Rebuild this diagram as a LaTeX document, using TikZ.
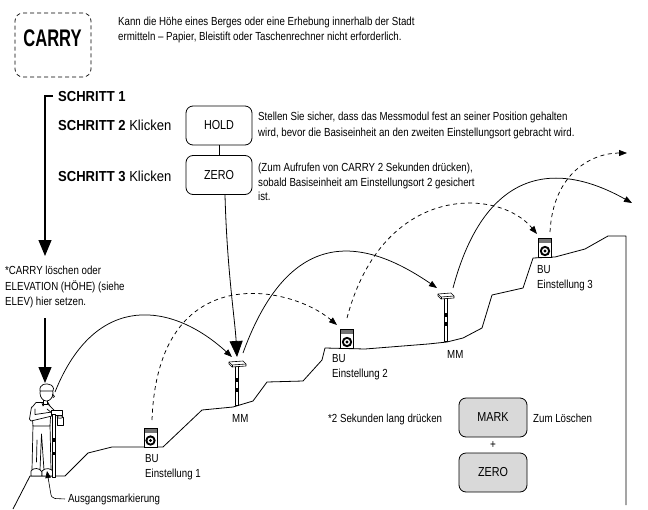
\documentclass[tikz,border=0pt]{standalone}
\usepackage{fontspec}
\setmainfont{Liberation Sans}[FakeStretch=0.83]
\newfontfamily\carryfont{Liberation Sans}[FakeStretch=0.69]
\newfontfamily\stepfont{Liberation Sans}[FakeStretch=0.9]
\usetikzlibrary{arrows.meta,calc}
\begin{document}
\begin{tikzpicture}[x=1pt,y=1pt,
  txt/.style={inner sep=0pt, anchor=base west, font=\fontsize{11.7}{14}\selectfont},
  steptxt/.style={txt, font=\stepfont\fontsize{14.5}{16}\selectfont},
  key/.style={draw, rounded corners=7pt, minimum width=66pt, minimum height=39pt,
              line width=0.8pt, inner sep=0pt, font=\fontsize{13}{15}\selectfont},
  graykey/.style={key, minimum width=68pt, fill=black!15},
  carryframe/.style={draw, dash pattern=on 4pt off 3pt, rounded corners=8pt,
              minimum width=76pt, minimum height=64pt, line width=0.7pt},
  hop/.style={line width=0.75pt, -{Triangle[length=8pt,width=6pt]}},
  hopdash/.style={hop, dash pattern=on 4pt off 3.5pt},
  bigarrow/.style={line width=1.2pt, -{Triangle[length=16pt,width=13pt]}},
  ground/.style={line width=0.8pt, line join=round},
  bunit/.style={draw, fill=white, line width=0.7pt, minimum width=13pt, minimum height=19pt,
              inner sep=0pt,
              path picture={
                \fill[black!55] (path picture bounding box.north west) rectangle
                     ([yshift=-4.5pt]path picture bounding box.north east);
                \fill[black] ([yshift=-3pt]path picture bounding box.center) circle (5.2pt);
                \fill[white] ([yshift=-3pt]path picture bounding box.center) circle (3pt);
                \fill[black] ([yshift=-3pt]path picture bounding box.center) circle (1.6pt);
              }},
  pole/.style={draw, fill=white, line width=0.5pt},
]
\useasboundingbox (0,0) rectangle (648,-509);

% ---------- heading ----------
\node[carryframe] (carry) at (53,-45) {};
\node[inner sep=0pt, font=\carryfont\bfseries\fontsize{24}{24}\selectfont] (carrytxt) at (52.5,-38) {CARRY};
\node[txt] (intro1) at (118,-25) {Kann die Höhe eines Berges oder eine Erhebung innerhalb der Stadt};
\node[txt] (intro2) at (118,-40) {ermitteln – Papier, Bleistift oder Taschenrechner nicht erforderlich.};

% ---------- steps ----------
\node[steptxt] (s1) at (58,-101) {\bfseries SCHRITT 1};
\node[steptxt] (s2) at (58,-130) {\bfseries SCHRITT 2 \mdseries Klicken};
\node[steptxt] (s3) at (58,-181) {\bfseries SCHRITT 3 \mdseries Klicken};
\node[key] (hold) at (219,-125.5) {HOLD};
\node[key] (zero) at (219,-175) {ZERO};
\draw[line width=0.8pt] (hold.south) -- (zero.north);

\node[txt] (hold1) at (258,-120.5) {Stellen Sie sicher, dass das Messmodul fest an seiner Position gehalten};
\node[txt] (hold2) at (258,-136) {wird, bevor die Basiseinheit an den zweiten Einstellungsort gebracht wird.};
\node[txt] (zero1) at (258,-171) {(Zum Aufrufen von CARRY 2 Sekunden drücken),};
\node[txt] (zero2) at (258,-186) {sobald Basiseinheit am Einstellungsort 2 gesichert};
\node[txt] (zero3) at (258,-200.5) {ist.};

\node[txt] (del1) at (5,-274.5) {*CARRY löschen oder};
\node[txt] (del2) at (5,-290.5) {ELEVATION (HÖHE) (siehe};
\node[txt] (del3) at (5,-305.5) {ELEV) hier setzen.};

\coordinate (tip1) at (45,-256);
\draw[bigarrow] ([xshift=-5pt]s1.west) -| (tip1);
\coordinate (dfrom) at (45,-318);
\coordinate (mantop) at (45,-383);
\draw[bigarrow] (dfrom) -- (mantop);

% ---------- terrain ----------
\draw[ground] (13,-509) -- (30,-476) -- (65,-476) -- (88,-453) -- (112,-447) -- (163,-447)
  -- (202,-410) -- (233,-407) -- (253,-401) -- (267,-382) -- (303,-381) -- (322,-360)
  -- (325,-348) -- (365,-349) -- (428,-344) -- (447,-342) -- (463,-338) -- (482,-328)
  -- (492,-295) -- (523,-288) -- (533,-258) -- (555,-257) -- (585,-249) -- (608,-236)
  -- (626,-236) -- (626,-505);

% ---------- surveyor ----------
\begin{scope}[line width=0.7pt, line join=round, line cap=round]
  % legs
  \draw[fill=white] (33,-425) -- (32,-470) -- (40,-470) -- (41.5,-434) -- (44,-470) -- (51,-470) -- (50,-425) -- cycle;
  \draw (37,-440) -- (36.5,-462);
  % shoes
  \draw[fill=white] (31,-476) -- (31,-471) .. controls (33,-467.5) and (40,-467.5) .. (42,-472) -- (42,-476) -- cycle;
  \draw[fill=white] (42,-476) -- (42,-471) .. controls (45,-467.5) and (52,-467.5) .. (54,-473) -- (54,-476) -- cycle;
  % shirt
  \draw[fill=white] (36,-402.5) -- (48,-402.5) -- (51,-408) -- (50,-426) -- (33,-426) -- (31.5,-408) -- cycle;
  \draw (42,-403) -- (43,-406) -- (45,-403);
  % arms
  \draw[fill=white] (31.5,-407) -- (29.5,-419) -- (31,-421) -- (52,-416) -- (52,-412) -- (35,-414.5) -- (35,-409);
  \draw[fill=white] (48,-404) -- (54.5,-410.5) -- (52,-413) -- (47,-409);
  % neck and head
  \draw[fill=white] (43,-398) -- (43,-404) -- (47.5,-404) -- (47.5,-398);
  \draw[fill=white] (46.5,-393) ellipse (6.5pt and 8pt);
  \draw[fill=white] (40,-391) .. controls (39,-384) and (46,-382.5) .. (51,-385)
        .. controls (54,-387) and (54,-390) .. (53,-391) -- (40,-391);
  \draw (52.5,-394) -- (54.5,-396.5) -- (53,-397.5);
  % handheld unit and cup
  \draw[fill=white] (51,-410.5) rectangle (62,-415);
  \draw[fill=white] (57,-417) rectangle (63,-425);
  \draw[fill=white] (60,-417) ellipse (3pt and 1.2pt);
  % pole
  \draw[pole] (52.5,-414) rectangle (55,-477);
  \fill (52.5,-438) rectangle (55,-442);
  \fill (52.5,-452) rectangle (55,-455);
\end{scope}
\coordinate (manarc) at (55,-392);

% ---------- base units ----------
\node[bunit] (bu1) at (150.5,-437.5) {};
\node[bunit] (bu2) at (347,-339) {};
\node[bunit] (bu3) at (545,-248) {};

% ---------- measuring modules ----------
\begin{scope}[line width=0.6pt, line join=round]
  \draw[pole] (235.5,-366) rectangle (238.5,-405);
  \fill (235.5,-378) rectangle (238.5,-382);
  \fill (235.5,-388) rectangle (238.5,-392);
  \draw[fill=white] (229,-362) -- (243,-361) -- (246,-364) -- (246,-366) -- (232,-367) -- (229,-364) -- cycle;
  \draw (229,-362) -- (232,-365) -- (246,-364);
  \draw (232,-365) -- (232,-367);

  \draw[pole] (444.5,-298) rectangle (447.5,-341);
  \fill (444.5,-313) rectangle (447.5,-317);
  \fill (444.5,-322) rectangle (447.5,-326);
  \draw[fill=white] (438,-294) -- (451,-293) -- (454,-296) -- (454,-298) -- (441,-299) -- (438,-296) -- cycle;
  \draw (438,-294) -- (441,-297) -- (454,-296);
  \draw (441,-297) -- (441,-299);
\end{scope}
\coordinate (mm1in) at (232,-357);
\coordinate (mm1top) at (237,-357);
\coordinate (mm1out) at (243,-353);
\coordinate (mm2in) at (437,-288);
\coordinate (mm2out) at (453,-288);
\coordinate (bu1out) at (152,-420);
\coordinate (bu2in) at (337,-325);
\coordinate (bu2out) at (347,-318);
\coordinate (bu3in) at (537,-234);
\coordinate (bu3out) at (550,-232);
\coordinate (mmnext) at (632,-203);
\coordinate (bunext) at (627,-153);

% ---------- device labels ----------
\node[txt] (bu1a) at (145,-462) {BU};
\node[txt] (bu1b) at (145,-477.5) {Einstellung 1};
\node[txt] (mm1l) at (232,-422) {MM};
\node[txt] (bu2a) at (332,-362) {BU};
\node[txt] (bu2b) at (332,-377.5) {Einstellung 2};
\node[txt] (mm2l) at (447,-358) {MM};
\node[txt] (bu3a) at (537,-273) {BU};
\node[txt] (bu3b) at (537,-288) {Einstellung 3};

% ---------- leapfrog moves ----------
\draw[hop] (manarc) .. controls (96,-290) and (173,-303) .. (mm1in);
\draw[hopdash] (bu1out) .. controls (158,-258) and (290,-285) .. (bu2in);
\draw[hop] (mm1out) .. controls (291,-221) and (367,-240) .. (mm2in);
\draw[hopdash] (bu2out) .. controls (383,-182) and (499,-188) .. (bu3in);
\draw[hop] (mm2out) .. controls (484,-172) and (552,-158) .. (mmnext);
\draw[hopdash] (bu3out) .. controls (553,-173) and (592,-153) .. (bunext);

\draw[bigarrow, line width=0.8pt] ([xshift=6pt]zero.south) .. controls (227,-270) and (235,-320) .. (mm1top);

% ---------- starting mark ----------
\node[txt] (startmark) at (68,-502) {Ausgangsmarkierung};
\coordinate (foot) at (47,-471);
\draw[line width=0.6pt, -{Triangle[length=7pt,width=5.5pt]}] ([xshift=-3pt]startmark.west)
  -- (55,-498.5) .. controls (52,-498.5) and (51,-496) .. (50.5,-492) -- (foot);

% ---------- clearing ----------
\node[graykey] (mark) at (493,-417.5) {MARK};
\node[graykey] (zeroclr) at (493,-472.5) {ZERO};
\node[inner sep=0pt, font=\fontsize{12}{12}\selectfont] (plus) at (493,-445) {+};
\node[txt] (press) at (328,-422) {*2 Sekunden lang drücken};
\node[txt] (clear) at (533,-422) {Zum Löschen};
\end{tikzpicture}
\end{document}
